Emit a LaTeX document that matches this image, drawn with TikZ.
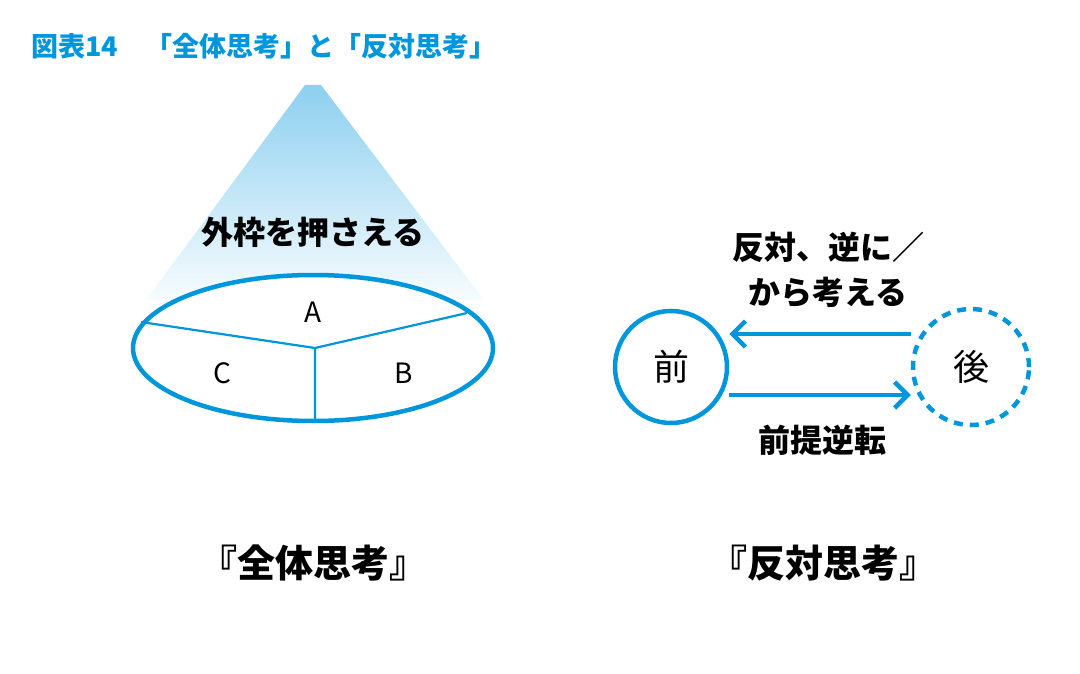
\documentclass[tikz,border=0pt]{standalone}
\usepackage{fontspec}
\newfontfamily\cjk{Noto Sans CJK JP}
\usetikzlibrary{arrows.meta}
\definecolor{zublue}{RGB}{0,150,220}
\tikzset{heavy/.style={draw=zublue,line width=4.5pt},
thinline/.style={draw=zublue,line width=2.2pt},
boldlabel/.style={font=\cjk\bfseries\fontsize{32}{36}\selectfont},
letter/.style={font=\cjk\fontsize{28}{32}\selectfont},
bigtitle/.style={font=\cjk\bfseries\fontsize{38}{42}\selectfont},
flow/.style={draw=zublue,line width=4.5pt,-{Straight Barb[length=13pt,width=26pt,line width=4.5pt]}}}
\begin{document}
\begin{tikzpicture}[x=1pt,y=-1pt]
\useasboundingbox (0,0) rectangle (1080,674);
% title
\node[anchor=west,text=zublue,font=\cjk\bfseries\fontsize{27}{30}\selectfont] (title) at (28,46) {図表14　「全体思考」と「反対思考」};
% cone of light
\shade[top color=zublue!45,bottom color=zublue!3] (305,85) -- (321,85) -- (484,300) -- (146,300) -- cycle;
\fill[white] (313,348) ellipse (180 and 73);
\node[boldlabel] (frame) at (313,232) {外枠を押さえる};
% whole
\coordinate (hub) at (315,348);
\coordinate (west) at (141,322);
\coordinate (east) at (467,313);
\coordinate (south) at (315,420);
\draw[thinline] (hub) -- (west) (hub) -- (east) (hub) -- (south);
\draw[heavy] (313,348) ellipse (180 and 73);
\node[letter] (partA) at (313,312) {A};
\node[letter] (partC) at (222,373) {C};
\node[letter] (partB) at (404,373) {B};
% opposite
\node[circle,heavy,minimum size=112pt,font=\cjk\fontsize{36}{40}\selectfont] (front) at (671,367) {前};
\node[circle,heavy,dash pattern=on 9pt off 7pt,minimum size=116pt,font=\cjk\fontsize{36}{40}\selectfont] (back) at (971,367) {後};
\draw[flow] ([yshift=33pt]back.west) -- ([yshift=33pt]front.east);
\draw[flow] ([yshift=-28pt]front.east) -- ([yshift=-28pt]back.west);
\node[boldlabel] (rev1) at (828,247) {反対、逆に／};
\node[boldlabel] (rev2) at (828,292) {から考える};
\node[boldlabel] (flip) at (822,440) {前提逆転};
% captions
\node[bigtitle] (capL) at (313,563) {『全体思考』};
\node[bigtitle] (capR) at (823,563) {『反対思考』};
\end{tikzpicture}
\end{document}
